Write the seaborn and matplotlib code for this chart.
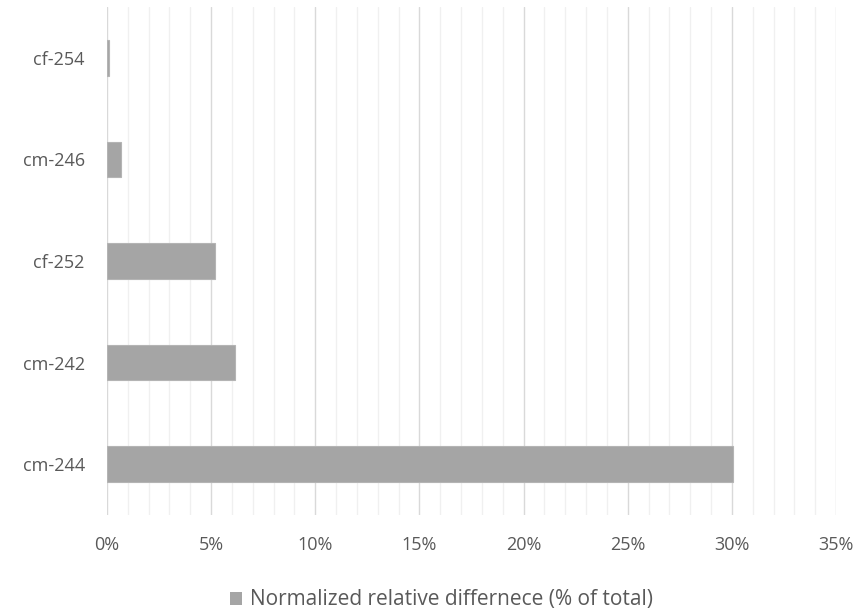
import matplotlib
matplotlib.use("Agg")
import matplotlib.pyplot as plt
from matplotlib.ticker import MultipleLocator, PercentFormatter
from matplotlib.patches import Patch
import seaborn as sns
import pandas as pd

# Samples, top to bottom, and their normalized relative difference (% of total)
samples = ["cf-254", "cm-246", "cf-252", "cm-242", "cm-244"]
diff_pct = [0.1, 0.67, 5.18, 6.15, 30.05]
series_name = "Normalized relative differnece (% of total)"

df = pd.DataFrame({"sample": samples, "value": diff_pct})

sns.set_theme(style="white")
plt.rcParams["font.family"] = ["Open Sans", "DejaVu Sans"]

text_color = "#595959"
bar_color = "#a5a5a5"

fig = plt.figure(figsize=(8.57, 6.14), dpi=100)
ax = fig.add_axes([107 / 857, 1 - 515 / 614, (836 - 107) / 857, (515 - 7) / 614])

sns.barplot(data=df, x="value", y="sample", orient="h", color=bar_color,
            width=0.35, saturation=1, ax=ax, zorder=3,
            edgecolor="#b4b4b4", linewidth=0.8)

ax.set_xlim(0, 35)
ax.xaxis.set_major_locator(MultipleLocator(5))
ax.xaxis.set_minor_locator(MultipleLocator(1))
ax.xaxis.set_major_formatter(PercentFormatter(decimals=0))
ax.grid(axis="x", which="major", color="#d9d9d9", linewidth=1.0, zorder=0)
ax.grid(axis="x", which="minor", color="#f0f0f0", linewidth=1.0, zorder=0)
ax.grid(axis="y", visible=False)
ax.set_axisbelow(True)

for s in ax.spines.values():
    s.set_visible(False)

ax.set_xlabel("")
ax.set_ylabel("")
ax.tick_params(axis="both", which="both", length=0, colors=text_color, labelsize=13)
ax.tick_params(axis="x", pad=15)
ax.tick_params(axis="y", pad=16)

handle = Patch(facecolor=bar_color, edgecolor="none")
fig.legend([handle], [series_name], loc="center", bbox_to_anchor=(0.515, 1 - 600 / 614),
           frameon=False, fontsize=15, labelcolor=text_color,
           handlelength=0.6, handleheight=0.6, handletextpad=0.35)

fig.savefig("out.png", dpi=100)
